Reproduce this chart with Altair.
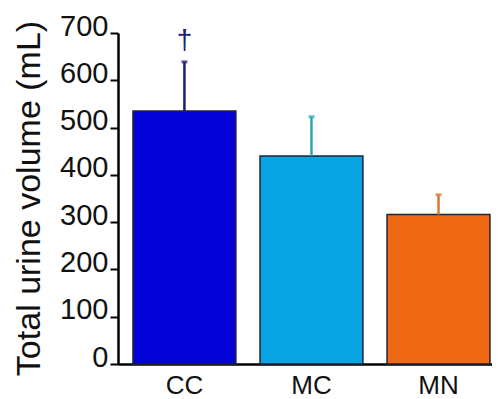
import altair as alt
import pandas as pd

groups = ["CC", "MC", "MN"]
means = [535, 440, 316]
err_top = [639, 523, 358]
bar_colors = ["#0202d6", "#06a4e2", "#f06812"]
err_colors = ["#1c1c7a", "#2ca6b4", "#d8782e"]
marks_txt = ["†", "", ""]

df = pd.DataFrame({"group": groups, "mean": means, "hi": err_top, "mark": marks_txt})

FONT = "Liberation Sans"

x_scale = alt.Scale(domain=groups, paddingInner=0.19, paddingOuter=0.067, align=0.88)
y_scale = alt.Scale(domain=[0, 700], nice=False, zero=True)

x_axis = alt.Axis(
    title=None, ticks=False, tickSize=0, labelAngle=0, labelFontSize=26, labelFont=FONT,
    labelColor="#111111", labelPadding=8, labelBaseline="top",
    domainColor="#000000", domainWidth=2.5,
)
y_axis = alt.Axis(
    title="Total urine volume (mL)", values=[0, 100, 200, 300, 400, 500, 600, 700],
    labelFontSize=29, labelFont=FONT, labelColor="#111111", labelPadding=2,
    labelBaseline="alphabetic", labelOffset=2, labelOverlap=False,
    tickSize=8, tickWidth=2, tickColor="#000000",
    domainColor="#000000", domainWidth=2.5, grid=False,
    titleFontSize=34, titleFont=FONT, titleFontWeight="normal", titleColor="#111111",
    titleX=-79, titleY=165, titleAngle=270, titleAlign="center", titleBaseline="alphabetic",
)

base = alt.Chart(df)

bars = base.mark_bar(stroke="#222233", strokeWidth=1.5).encode(
    x=alt.X("group:N", scale=x_scale, axis=x_axis, sort=groups),
    y=alt.Y("mean:Q", scale=y_scale, axis=y_axis),
    color=alt.Color("group:N", scale=alt.Scale(domain=groups, range=bar_colors), legend=None),
)

err_color = alt.Color("group:N", scale=alt.Scale(domain=groups, range=err_colors), legend=None)

rules = base.mark_rule(strokeWidth=2.5).encode(
    x=alt.X("group:N", sort=groups),
    y="mean:Q",
    y2="hi:Q",
    color=err_color,
)

caps = base.mark_tick(thickness=3, size=6).encode(
    x=alt.X("group:N", sort=groups),
    y="hi:Q",
    color=err_color,
)

dagger = base.mark_text(fontSize=28, font=FONT, dy=-21, baseline="middle").encode(
    x=alt.X("group:N", sort=groups),
    y="hi:Q",
    text="mark:N",
    color=err_color,
)

chart = alt.layer(bars, rules, caps, dagger).resolve_scale(color="independent").properties(
    width=374,
    height=331,
    autosize=alt.AutoSizeParams(type="none"),
    padding={"left": 110, "top": 25, "right": 0, "bottom": 34},
    background="white",
).configure_view(stroke=None)

chart.save("out.html", embed_options={"renderer": "svg", "actions": False})
